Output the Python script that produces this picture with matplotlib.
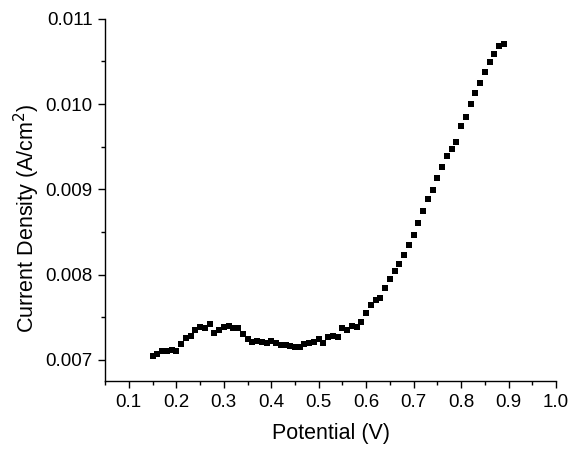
import matplotlib
matplotlib.use("Agg")
import matplotlib.pyplot as plt
from matplotlib.ticker import MultipleLocator, FormatStrFormatter

plt.rcParams['font.family'] = ['Liberation Sans', 'DejaVu Sans']

# Polarisation scan: potential (V) and measured current density (A/cm^2)
potential = [0.15, 0.16, 0.17, 0.18, 0.19, 0.20, 0.21, 0.22, 0.23, 0.24,
             0.25, 0.26, 0.27, 0.28, 0.29, 0.30, 0.31, 0.32, 0.33, 0.34,
             0.35, 0.36, 0.37, 0.38, 0.39, 0.40, 0.41, 0.42, 0.43, 0.44,
             0.45, 0.46, 0.47, 0.48, 0.49, 0.50, 0.51, 0.52, 0.53, 0.54,
             0.55, 0.56, 0.57, 0.58, 0.59, 0.60, 0.61, 0.62, 0.63, 0.64,
             0.65, 0.66, 0.67, 0.68, 0.69, 0.70, 0.71, 0.72, 0.73, 0.74,
             0.75, 0.76, 0.77, 0.78, 0.79, 0.80, 0.81, 0.82, 0.83, 0.84,
             0.85, 0.86, 0.87, 0.88, 0.89]
current = [0.00705, 0.00707, 0.00710, 0.00710, 0.00712, 0.00711, 0.00719, 0.00726, 0.00728, 0.00735,
           0.00739, 0.00737, 0.00742, 0.00732, 0.00735, 0.00738, 0.00740, 0.00737, 0.00737, 0.00730,
           0.00725, 0.00721, 0.00722, 0.00721, 0.00720, 0.00722, 0.00720, 0.00718, 0.00718, 0.00716,
           0.00715, 0.00715, 0.00719, 0.00720, 0.00721, 0.00725, 0.00720, 0.00727, 0.00728, 0.00727,
           0.00737, 0.00735, 0.00740, 0.00738, 0.00745, 0.00755, 0.00764, 0.00770, 0.00773, 0.00784,
           0.00795, 0.00804, 0.00812, 0.00823, 0.00835, 0.00847, 0.00860, 0.00875, 0.00889, 0.00899,
           0.00913, 0.00926, 0.00939, 0.00947, 0.00955, 0.00974, 0.00985, 0.01000, 0.01013, 0.01025,
           0.01038, 0.01049, 0.01059, 0.01068, 0.01071]

x_ticks = [0.1, 0.2, 0.3, 0.4, 0.5, 0.6, 0.7, 0.8, 0.9, 1.0]
y_ticks = [0.007, 0.008, 0.009, 0.010, 0.011]

fig = plt.figure(figsize=(5.71, 4.49), dpi=100)
ax = fig.add_axes([0.184, 0.151, 0.790, 0.807])

ax.plot(potential, current, linestyle='none', marker='s', markersize=5,
        color='black', markeredgewidth=0)

ax.set_xlim(0.05, 1.0)
ax.set_ylim(0.00675, 0.011)
ax.set_xticks(x_ticks)
ax.set_yticks(y_ticks)
ax.xaxis.set_minor_locator(MultipleLocator(0.05))
ax.yaxis.set_minor_locator(MultipleLocator(0.0005))
ax.xaxis.set_major_formatter(FormatStrFormatter('%.1f'))
ax.yaxis.set_major_formatter(FormatStrFormatter('%.3f'))

for side in ('top', 'right'):
    ax.spines[side].set_visible(False)
for side in ('left', 'bottom'):
    ax.spines[side].set_linewidth(1.0)

ax.tick_params(which='major', direction='out', length=5, width=1.0,
               labelsize=13.5, pad=4)
ax.tick_params(which='minor', direction='out', length=3, width=1.0)

ax.set_xlabel('Potential (V)', fontsize=15.5, labelpad=9)
ax.set_ylabel('Current Density (A/cm$^2$)', fontsize=15.5)
# y label sits a little below the axis midpoint
ax.yaxis.set_label_coords(-0.14, 0.45)

fig.savefig('out.png', dpi=100)
